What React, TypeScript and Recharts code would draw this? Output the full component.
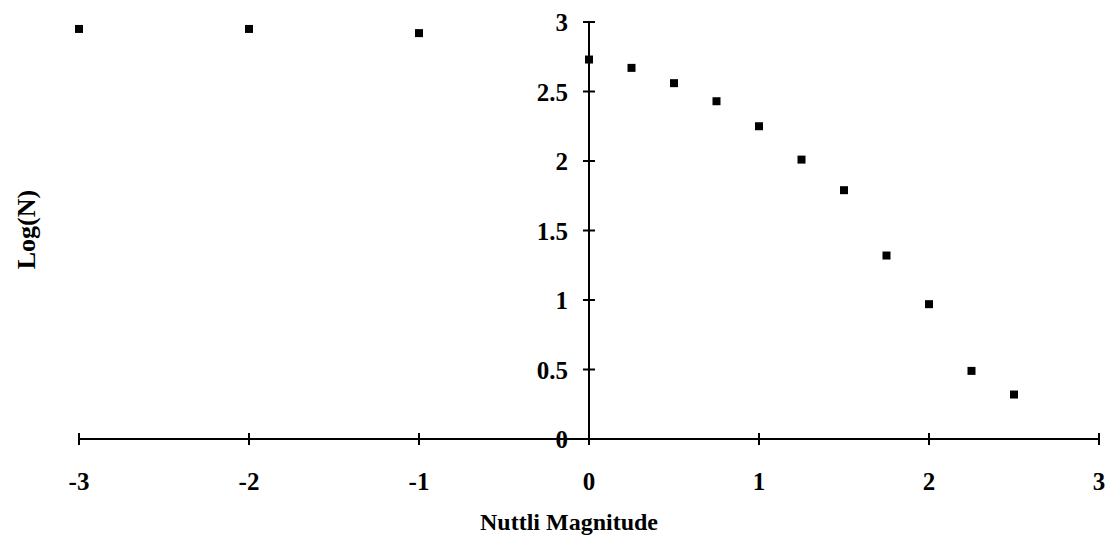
import {ReferenceDot, ReferenceLine, Scatter, ScatterChart, XAxis, YAxis, ZAxis, Label} from "recharts";

const magnitudes = [-3, -2, -1, 0, 0.25, 0.5, 0.75, 1, 1.25, 1.5, 1.75, 2, 2.25, 2.5];
const logN = [2.95, 2.95, 2.92, 2.73, 2.67, 2.56, 2.43, 2.25, 2.01, 1.79, 1.32, 0.97, 0.49, 0.32];
const xTicks = [-3, -2, -1, 0, 1, 2, 3];
const yTicks = [0, 0.5, 1, 1.5, 2, 2.5, 3];

const data = magnitudes.map((m, i) => ({x: m, y: logN[i]}));

const font = "'Liberation Serif', 'Times New Roman', serif";

const XTick = (props: any) => {
    const {x, y, payload} = props;
    return (
        <g>
            <line x1={x} y1={y - 6} x2={x} y2={y + 6} stroke="#000" strokeWidth={2} />
            <text x={x} y={y + 51} textAnchor="middle" fontFamily={font} fontWeight="bold" fontSize={25} fill="#000">
                {payload.value}
            </text>
        </g>
    );
};

const YTick = (label: number) => (props: any) => {
    const {cx, cy} = props;
    return (
        <g>
            <line x1={cx - 6} y1={cy} x2={cx + 6} y2={cy} stroke="#000" strokeWidth={2} />
            <text x={cx - 21} y={cy + 9} textAnchor="end" fontFamily={font} fontWeight="bold" fontSize={25} fill="#000">
                {label}
            </text>
        </g>
    );
};

export default function App() {
    return (
        <div style={{position: "absolute", left: 0, top: 0, background: "#fff"}}>
            <ScatterChart width={1110} height={543} margin={{top: 22, right: 11, bottom: 0, left: 0}}>
                <XAxis type="number" dataKey="x" domain={[-3, 3]} ticks={xTicks} height={104}
                       axisLine={{stroke: "#000", strokeWidth: 2}} tickLine={false} tickSize={0} tickMargin={0}
                       tick={<XTick />} interval={0}>
                    <Label value="Nuttli Magnitude" position="insideBottom" offset={13} dx={-20}
                           style={{fontFamily: font, fontWeight: "bold", fontSize: 24, fill: "#000"}} />
                </XAxis>
                <YAxis type="number" dataKey="y" domain={[0, 3]} ticks={yTicks} width={79}
                       axisLine={false} tickLine={false} tick={false}>
                    <Label value="Log(N)" angle={-90} position="center" dx={-14} dy={-1}
                           style={{fontFamily: font, fontWeight: "bold", fontSize: 26, fill: "#000"}} />
                </YAxis>
                <ZAxis range={[110, 110]} />
                <ReferenceLine x={0} stroke="#000" strokeWidth={2} />
                {yTicks.map((t) => (
                    <ReferenceDot key={t} x={0} y={t} r={0} ifOverflow="visible" shape={YTick(t)} />
                ))}
                <Scatter data={data} fill="#000" shape="square" legendType="none" isAnimationActive={false} />
            </ScatterChart>
        </div>
    );
}
